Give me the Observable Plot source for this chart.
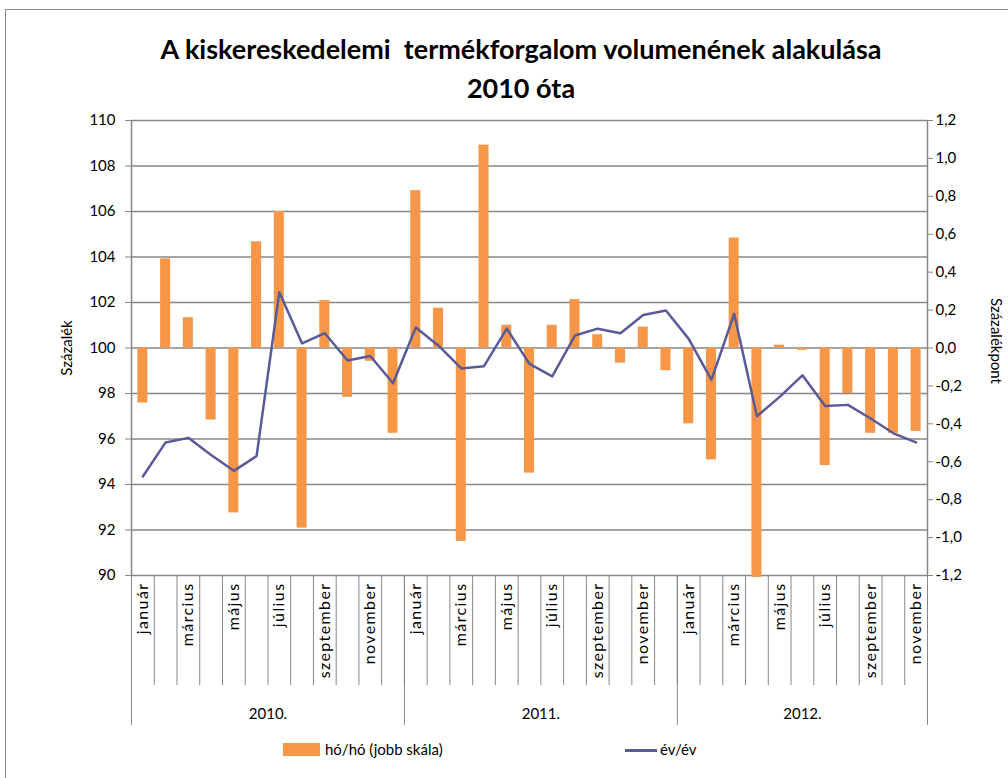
<!DOCTYPE html>
<html><head><meta charset="utf-8">
<script src="https://cdn.jsdelivr.net/npm/d3@7"></script>
<script src="https://cdn.jsdelivr.net/npm/@observablehq/plot@0.6"></script>
<style>
body{margin:0;background:#fff;font-family:Lato,"Open Sans",sans-serif;}
#wrap{position:relative;width:1008px;height:778px;overflow:hidden;}
#frame{position:absolute;left:5px;top:9px;width:1100px;height:900px;border:1.5px solid #8c8c8c;}
#title{position:absolute;left:0;width:1042px;top:29px;text-align:center;font-weight:bold;font-size:27px;line-height:39px;color:#000;}
#chart{position:absolute;left:0;top:105px;}
#rlabel{position:absolute;left:988px;top:298px;writing-mode:vertical-rl;font-size:15px;line-height:18px;}
#legend{position:absolute;top:740px;left:0;font-size:15px;}
.lg{position:absolute;white-space:nowrap;}
.mlab text{letter-spacing:1.4px;}
</style></head>
<body>
<div id="wrap">
<div id="frame"></div>
<div id="title">A kiskereskedelemi&nbsp; termékforgalom volumenének alakulása<br>2010 óta</div>
<div id="chart"></div>
<div id="rlabel">Százalékpont</div>
<div id="legend">
 <div class="lg" style="left:283px;top:3px;width:37px;height:13px;background:#F79646"></div>
 <div class="lg" style="left:325px;top:0px;">hó/hó (jobb skála)</div>
 <div class="lg" style="left:625px;top:9px;width:32px;height:2.5px;background:#5A5A98"></div>
 <div class="lg" style="left:660px;top:0px;">év/év</div>
</div>
</div>
<script>
const months = ["január","február","március","április","május","június","július","augusztus","szeptember","október","november","december"];
const years = ["2010.","2011.","2012."];
// hó/hó (right scale, százalékpont)
const momValues = [-0.29,0.47,0.16,-0.38,-0.87,0.56,0.72,-0.95,0.25,-0.26,-0.07,-0.45,
  0.83,0.21,-1.02,1.07,0.12,-0.66,0.12,0.255,0.07,-0.08,0.11,-0.12,
  -0.40,-0.59,0.58,-1.21,0.015,-0.012,-0.62,-0.24,-0.45,-0.45,-0.44];
// év/év (left scale, százalék)
const yoyValues = [94.35,95.85,96.05,95.3,94.6,95.25,102.45,100.2,100.65,99.45,99.65,98.45,
  100.9,100.1,99.1,99.2,100.85,99.3,98.75,100.55,100.85,100.65,101.45,101.65,
  100.4,98.6,101.5,97.0,97.85,98.8,97.45,97.5,96.9,96.25,95.85];
const leftTicks = d3.range(90, 111, 2);
const rightTicks = d3.range(-12, 13, 2).map(k => k / 10);

const toLeft = v => 100 + v / 0.12;
const fmtR = v => (Math.round(v * 10) / 10 + 0).toFixed(1).replace(".", ",");
const data = momValues.map((m, i) => ({i, month: months[i % 12], year: years[Math.floor(i / 12)], mom: m, yoy: yoyValues[i]}));
const n = data.length;
const grid = "#878787";

const chart = Plot.plot({
  width: 1008, height: 630,
  marginLeft: 131, marginRight: 81, marginTop: 15, marginBottom: 160,
  x: {type: "linear", domain: [0, n], axis: null},
  y: {domain: [90, 110], axis: null},
  style: {fontFamily: "Lato, 'Open Sans', sans-serif", fontSize: "15px", color: "#000", background: "transparent", overflow: "visible"},
  marks: [
    Plot.gridY(leftTicks, {stroke: grid, strokeOpacity: 1, strokeWidth: 1.5}),
    Plot.rectY(data, {x1: d => d.i + 0.28, x2: d => d.i + 0.72, y1: 100, y2: d => toLeft(d.mom), fill: "#F79646"}),
    Plot.line(data, {x: d => d.i + 0.5, y: "yoy", stroke: "#5A5A98", strokeWidth: 2.5}),
    Plot.ruleX([0, n], {stroke: grid, strokeWidth: 1.5}),
    Plot.axisY(leftTicks, {anchor: "left", tickSize: 6, tickPadding: 10, stroke: grid, label: "Százalék", labelAnchor: "center", labelArrow: "none", labelOffset: 70}),
    Plot.axisY(rightTicks.map(toLeft), {anchor: "right", tickSize: 5, tickPadding: 3, stroke: grid, tickFormat: d => fmtR((d - 100) * 0.12), label: null}),
    Plot.axisX(d3.range(n + 1), {anchor: "bottom", tickSize: 110, tickFormat: () => "", stroke: grid, strokeWidth: 1}),
    Plot.axisX([0, 12, 24, n], {anchor: "bottom", tickSize: 150, tickFormat: () => "", stroke: grid, strokeWidth: 1}),
    Plot.axisX(data.filter(d => d.i % 2 === 0).map(d => d.i + 0.5), {anchor: "bottom", tickSize: 0, tickPadding: 7, tickRotate: -90, fontSize: 16, className: "mlab", tickFormat: v => months[Math.floor(v) % 12], label: null}),
    Plot.axisX([6, 18, 29.5], {anchor: "bottom", tickSize: 0, tickPadding: 133, tickFormat: v => years[Math.floor(v / 12)], label: null})
  ]
});
document.getElementById("chart").appendChild(chart);
</script>
</body></html>
